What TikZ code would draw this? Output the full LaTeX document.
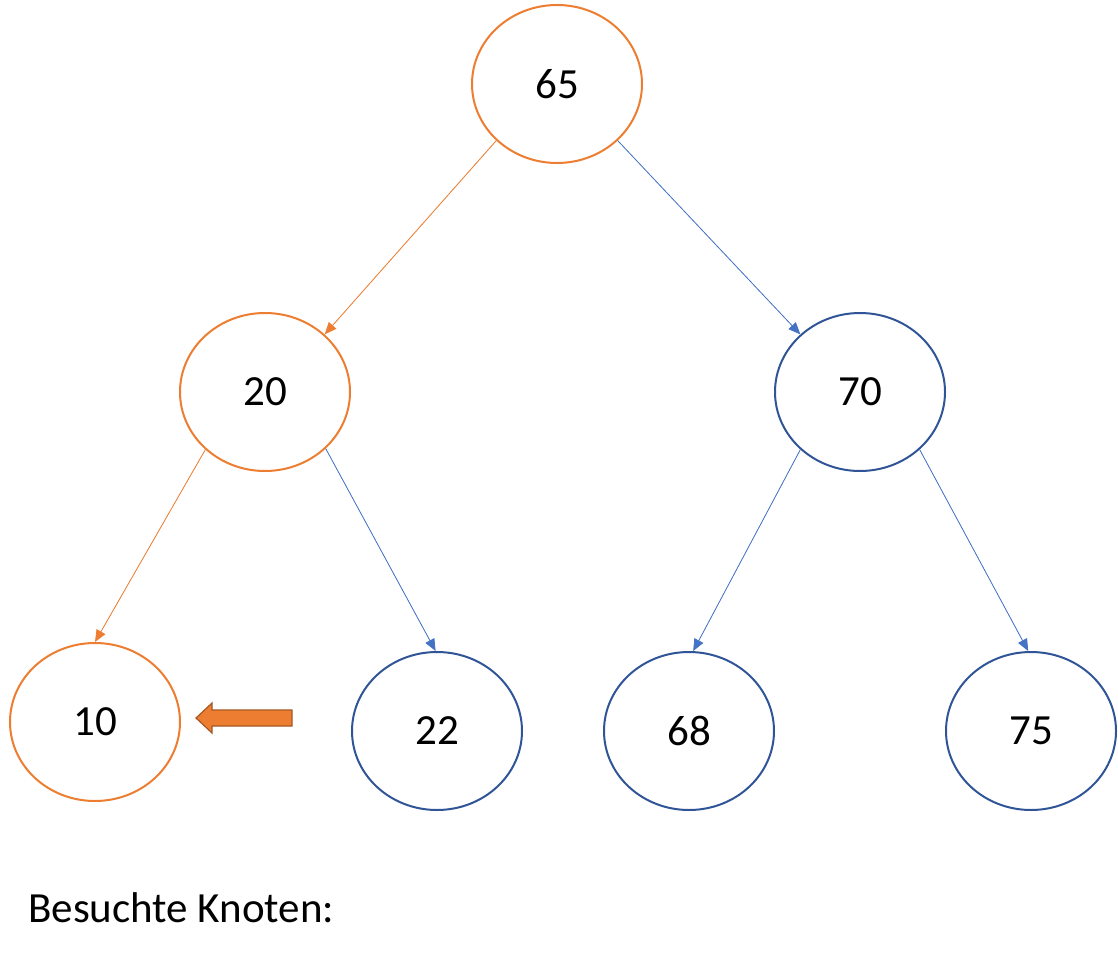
\documentclass[tikz,border=0pt]{standalone}
\usepackage{fontspec}
\setmainfont{Carlito}
\usetikzlibrary{shapes.geometric,arrows.meta}
\definecolor{org}{HTML}{ED7D31}
\definecolor{dblue}{HTML}{2F5597}
\definecolor{lblue}{HTML}{4472C4}
\begin{document}
\begin{tikzpicture}[x=1pt,y=-1pt,
  nd/.style={ellipse,draw=dblue,line width=2pt,minimum width=170pt,minimum height=158pt,font=\fontsize{43}{48}\selectfont,inner sep=0pt},
  on/.style={nd,draw=org},
  ed/.style={draw=lblue,fill=lblue,line width=0.8pt,-{Triangle[length=12pt,width=10pt]}},
  oe/.style={ed,draw=org,fill=org}]
\useasboundingbox (0,0) rectangle (1118,960);
\node[on] (n65) at (557,84) {65};
\node[on] (n20) at (265,392) {20};
\node[nd] (n70) at (860,392) {70};
\node[on] (n10) at (95,722) {10};
\node[nd] (n22) at (437,731) {22};
\node[nd] (n68) at (689,731) {68};
\node[nd] (n75) at (1031,731) {75};
\draw[oe] (n65.223) -- (n20.44);
\draw[ed] (n65.317) -- (n70.136);
\draw[oe] (n20.224) -- (n10.north);
\draw[ed] (n20.317) -- (n22.91);
\draw[ed] (n70.224) -- (n68.87);
\draw[ed] (n70.316) -- (n75.92);
\draw[fill=org,draw=org!70!black,line width=1.2pt] (292,710) -- (212,710) -- (212,703) -- (196,718) -- (212,733) -- (212,726) -- (292,726) -- cycle;
\node[anchor=base west,font=\fontsize{43}{48}\selectfont,inner sep=0pt] (lbl) at (28,922) {Besuchte Knoten:};
\end{tikzpicture}
\end{document}
